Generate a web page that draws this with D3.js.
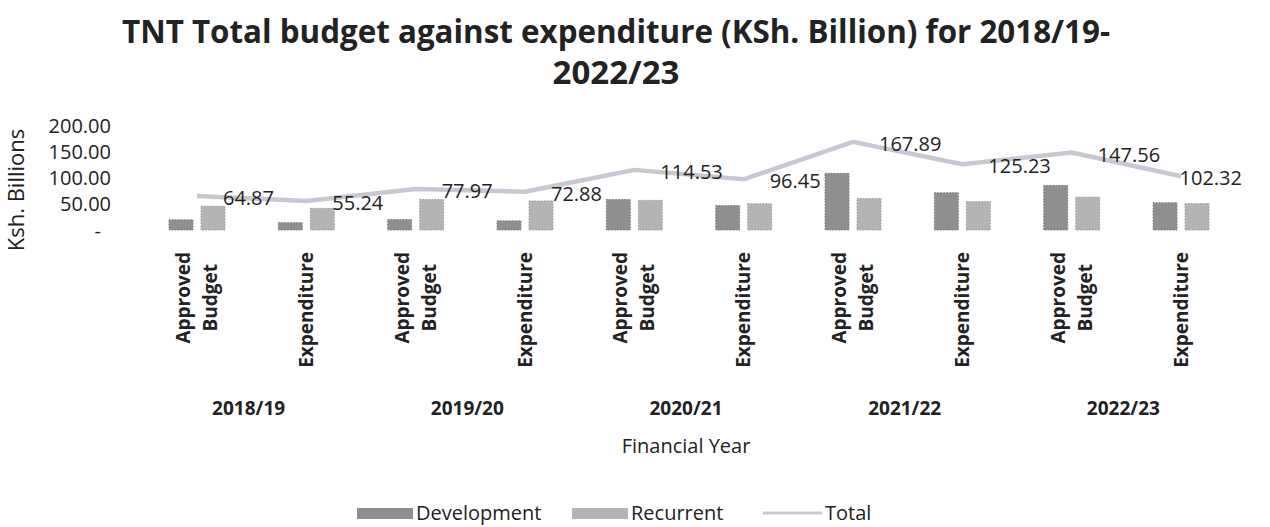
<!DOCTYPE html>
<html>
<head>
<meta charset="utf-8">
<script src="https://cdn.jsdelivr.net/npm/d3@7"></script>
<style>
  body { margin: 0; background: #fff; }
  text { font-family: "Open Sans", "Noto Sans", sans-serif; fill: #222; }
</style>
</head>
<body>
<div id="chart"></div>
<script>
// data
const years = ['2018/19', '2019/20', '2020/21', '2021/22', '2022/23'];
const stages = [['Approved', 'Budget'], ['Expenditure']];
const development = [19.5, 14, 20, 17.5, 58, 46.5, 108, 71, 85, 52];
const recurrent = [45.4, 41.2, 58, 55.4, 56.5, 50, 59.9, 54.2, 62.6, 50.3];
const total = [64.87, 55.24, 77.97, 72.88, 114.53, 96.45, 167.89, 125.23, 147.56, 102.32];
const yTicks = [0, 50, 100, 150, 200];
const seriesNames = ['Development', 'Recurrent', 'Total'];

const W = 1270, H = 527;
const colors = { dev: '#8f8f8f', rec: '#b4b4b4', line: '#c8c8d2' };

// one row per category (year x stage)
const rows = [];
years.forEach((y, i) => {
    stages.forEach((s, j) => {
        const k = i * 2 + j;
        rows.push({ key: y + '|' + j, year: y, stage: s, dev: development[k], rec: recurrent[k], total: total[k] });
    });
});

const svg = d3.select('#chart').append('svg')
    .attr('width', W).attr('height', H);

// 標題
const title = svg.append('g').attr('font-weight', 'bold').attr('font-size', 33).attr('text-anchor', 'middle');
const t1 = title.append('text').attr('x', 616).attr('y', 43).text('TNT Total budget against expenditure (KSh. Billion) for 2018/19-');
if (t1.node().getComputedTextLength() > 988) {
    t1.attr('textLength', 988).attr('lengthAdjust', 'spacingAndGlyphs');
}
title.append('text').attr('x', 616).attr('y', 84).text('2022/23');

// scales
const x = d3.scaleBand()
    .domain(rows.map(d => d.key))
    .range([142.3, 1235.7]);

const xInner = d3.scaleBand()
    .domain(['dev', 'rec'])
    .range([-28, 28])
    .paddingInner(0.25);

const y = d3.scaleLinear()
    .domain([0, 200])
    .range([230, 125]);

// y axis: labels only, no line
const yAxis = d3.axisLeft(y)
    .tickValues(yTicks)
    .tickSize(0)
    .tickPadding(0)
    .tickFormat(d => d === 0 ? '-' : d3.format('.2f')(d));

const yAxisG = svg.append('g')
    .attr('transform', 'translate(111,0)')
    .call(yAxis);
yAxisG.select('.domain').remove();
yAxisG.selectAll('text')
    .attr('font-family', '"Open Sans", sans-serif')
    .attr('font-size', 20)
    .attr('fill', '#222')
    .attr('dy', '0.35em')
    .attr('x', (d) => d === 0 ? -10 : 0);

svg.append('text')
    .attr('transform', 'translate(24,190) rotate(-90)')
    .attr('text-anchor', 'middle')
    .attr('font-size', 22)
    .text('Ksh. Billions');

// bars
const groups = svg.append('g').selectAll('g')
    .data(rows)
    .join('g')
    .attr('transform', d => `translate(${x(d.key) + x.bandwidth() / 2},0)`);

groups.selectAll('rect')
    .data(d => [{ k: 'dev', v: d.dev }, { k: 'rec', v: d.rec }])
    .join('rect')
    .attr('x', d => xInner(d.k))
    .attr('width', xInner.bandwidth())
    .attr('y', d => y(d.v))
    .attr('height', d => y(0) - y(d.v))
    .attr('fill', d => colors[d.k])
    .attr('stroke', d => d3.color(colors[d.k]).darker(0.4))
    .attr('stroke-width', 1)
    .attr('stroke-dasharray', '1.5 1.5');

// total line
const line = d3.line()
    .x(d => x(d.key) + x.bandwidth() / 2)
    .y(d => y(d.total));

svg.append('path')
    .datum(rows)
    .attr('d', line)
    .attr('fill', 'none')
    .attr('stroke', colors.line)
    .attr('stroke-width', 4.5)
    .attr('stroke-linejoin', 'round');

// data labels on the right of each point
svg.append('g').selectAll('text')
    .data(rows)
    .join('text')
    .attr('font-size', 20)
    .attr('dy', '0.35em')
    .attr('y', d => y(d.total) + 2)
    .text(d => d3.format('.2f')(d.total))
    .attr('x', function (d) {
        const w = this.getComputedTextLength();
        const cx = x(d.key) + x.bandwidth() / 2;
        return Math.min(cx + 26, 1242 - w);
    });

// category labels (rotated)
const catG = svg.append('g').attr('font-weight', 'bold').attr('font-size', 19);
rows.forEach(d => {
    const cx = x(d.key) + x.bandwidth() / 2;
    const lines = d.stage;
    const tmp = catG.append('text').text(lines.reduce((a, b) => a.length >= b.length ? a : b));
    const len = tmp.node().getComputedTextLength();
    tmp.remove();
    const cy = 252 + len / 2;
    const step = 27;
    lines.forEach((ln, i) => {
        const off = (i - (lines.length - 1) / 2) * step;
        catG.append('text')
            .attr('transform', `translate(${cx + off},${cy}) rotate(-90)`)
            .attr('text-anchor', 'middle')
            .attr('dy', '0.35em')
            .text(ln);
    });
});

// year labels
svg.append('g').selectAll('text')
    .data(years)
    .join('text')
    .attr('font-weight', 'bold')
    .attr('font-size', 19)
    .attr('text-anchor', 'middle')
    .attr('x', (d, i) => (x(rows[i * 2].key) + x(rows[i * 2 + 1].key)) / 2 + x.bandwidth() / 2 - 3)
    .attr('y', 415)
    .text(d => d);

svg.append('text')
    .attr('x', 686).attr('y', 453)
    .attr('text-anchor', 'middle')
    .attr('font-size', 20)
    .text('Financial Year');

// legend
const legendItems = [
    { name: seriesNames[0], type: 'bar', color: colors.dev, x: 357 },
    { name: seriesNames[1], type: 'bar', color: colors.rec, x: 572 },
    { name: seriesNames[2], type: 'line', color: colors.line, x: 763 }
];
const lg = svg.append('g');
legendItems.forEach(it => {
    if (it.type === 'bar') {
        lg.append('rect').attr('x', it.x).attr('y', 508).attr('width', 56).attr('height', 11).attr('fill', it.color);
    } else {
        lg.append('line').attr('x1', it.x).attr('x2', it.x + 59).attr('y1', 513).attr('y2', 513)
            .attr('stroke', it.color).attr('stroke-width', 3);
    }
    lg.append('text')
        .attr('x', it.x + (it.type === 'bar' ? 59 : 62))
        .attr('y', 513)
        .attr('dy', '0.35em')
        .attr('font-size', 20)
        .text(it.name);
});
</script>
</body>
</html>
